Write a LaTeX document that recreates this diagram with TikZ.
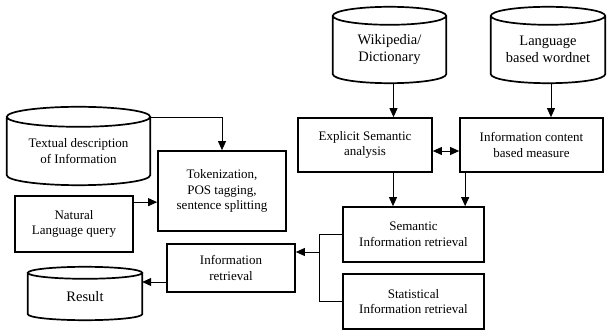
\documentclass[tikz,border=0pt]{standalone}
\usepackage{fontspec}
\setmainfont{Liberation Serif}
\usetikzlibrary{arrows.meta,calc}
\newcommand\drawcyl[2]{%
  \draw[cylline] let \p1=(#1.north west), \p2=(#1.south east), \n1={(\x2-\x1)/2} in
    (#1.north) ellipse [x radius=\n1, y radius=#2]
    (\x1,\y1) -- (\x1,\y2+#2) arc [start angle=180, end angle=360, x radius=\n1, y radius=#2] -- (\x2,\y1);
}
\begin{document}
\begin{tikzpicture}[x=1pt,y=-1pt,
  every node/.style={font=\fontsize{13}{15.5}\selectfont, align=center, inner sep=0pt},
  big/.style={font=\fontsize{14.5}{17.5}\selectfont},
  box/.style={draw, line width=1.7pt},
  cyl/.style={draw=none},
  conn/.style={line width=0.8pt},
  arr/.style={conn, -{Triangle[length=9pt,width=8pt]}},
  darr/.style={conn, {Triangle[length=9pt,width=8pt]}-{Triangle[length=9pt,width=8pt]}},
  cylline/.style={line width=1.7pt}]
\useasboundingbox (0,0) rectangle (608,331);

\node[cyl, minimum width=143pt, minimum height=68pt] (txt) at (78.5,151) {Textual description\\of Information};
\node[box, minimum width=128pt, minimum height=80pt] (tok) at (222,191) {Tokenization,\\POS tagging,\\sentence splitting};
\node[box, minimum width=118pt, minimum height=56pt] (nlq) at (74,224) {Natural\\Language query};
\node[cyl, big, minimum width=114pt, minimum height=47pt] (res) at (85,296.5) {Result};
\node[box, minimum width=128pt, minimum height=48pt] (ir) at (231,268) {Information\\retrieval};
\node[cyl, big, minimum width=113pt, minimum height=67pt] (wiki) at (389.5,49.5) {Wikipedia/\\Dictionary};
\node[cyl, big, minimum width=114pt, minimum height=67pt] (lang) at (548,49.5) {Language\\based wordnet};
\node[box, minimum width=134pt, minimum height=54pt] (esa) at (365,145) {Explicit Semantic\\analysis};
\node[box, minimum width=143pt, minimum height=54pt] (icm) at (531.5,145) {Information content\\based measure};
\node[box, minimum width=141pt, minimum height=55pt] (sir) at (413.5,234.5) {Semantic\\Information retrieval};
\node[box, minimum width=141pt, minimum height=55pt] (stat) at (413.5,301.5) {Statistical\\Information retrieval};

\drawcyl{txt}{10pt}
\drawcyl{res}{6pt}
\drawcyl{wiki}{9pt}
\drawcyl{lang}{9pt}

\draw[arr] ([yshift=-1pt]txt.north east) -| (tok.north);
\draw[arr] ([yshift=-7pt]nlq.north east) coordinate (a1) -- (a1 -| tok.west);
\draw[arr] ([xshift=4pt]wiki.south) coordinate (a2) -- (a2 |- esa.north);
\draw[arr] ([xshift=3pt]lang.south) coordinate (a3) -- (a3 |- icm.north);
\draw[darr] ([yshift=-6pt]esa.east) coordinate (a4) -- (a4 -| icm.west);
\draw[arr] ([xshift=28pt]esa.south) coordinate (a5) -- (a5 |- sir.north);
\draw[arr] ([xshift=6pt]icm.south west) coordinate (a6) -- (a6 |- sir.north);
\coordinate (j) at (319,252);
\draw[conn] (sir.west) -- (sir.west -| j) |- (stat.west);
\draw[arr] (j) -- (j -| ir.east);
\draw[arr] ([yshift=-14pt]ir.west) coordinate (a7) -- (a7 -| res.east);
\end{tikzpicture}
\end{document}
